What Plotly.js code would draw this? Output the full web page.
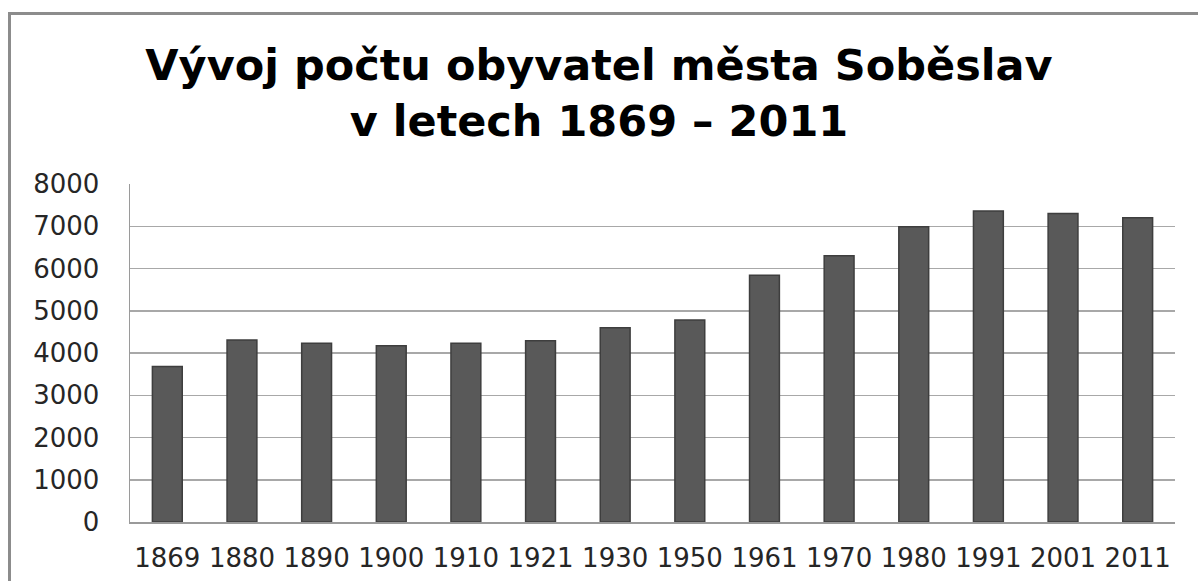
<!DOCTYPE html>
<html>
<head>
<meta charset="utf-8">
<script src="https://cdn.plot.ly/plotly-3.0.1.min.js"></script>
<style>
  html, body { margin: 0; padding: 0; background: #ffffff; }
  #chart { width: 1198px; height: 581px; }
  #frame { position: absolute; left: 8px; top: 12px; width: 2000px; height: 2000px;
           border-left: 3px solid #8c8c8c; border-top: 3px solid #8c8c8c; pointer-events: none; }
</style>
</head>
<body>
<div id="chart"></div>
<div id="frame"></div>
<script>
const years = ["1869","1880","1890","1900","1910","1921","1930","1950","1961","1970","1980","1991","2001","2011"];
const population = [3680, 4310, 4230, 4170, 4230, 4290, 4600, 4780, 5840, 6300, 6990, 7360, 7300, 7200];
const yTicks = [0, 1000, 2000, 3000, 4000, 5000, 6000, 7000, 8000];
const titleText = "Vývoj počtu obyvatel města Soběslav<br>v letech 1869 – 2011";

const trace = {
  type: "bar",
  x: years,
  y: population,
  marker: { color: "#595959", line: { color: "#3e3e3e", width: 1.5 } },
  hoverinfo: "x+y"
};

const layout = {
  width: 1198,
  height: 581,
  paper_bgcolor: "rgba(0,0,0,0)",
  plot_bgcolor: "#ffffff",
  margin: { l: 130, r: 23, t: 184, b: 59 },
  bargap: 0.6,
  showlegend: false,
  title: {
    text: titleText,
    font: { family: "DejaVu Sans", size: 43, color: "#000000", weight: "bold" },
    x: 0.5, xref: "container", xanchor: "center",
    y: 1 - 80 / 581, yref: "container", yanchor: "top"
  },
  xaxis: {
    type: "category",
    showgrid: false,
    showline: true, linecolor: "#9a9a9a", linewidth: 1.5,
    ticks: "",
    ticklabelstandoff: 12,
    tickfont: { family: "DejaVu Sans", size: 26, color: "#262626" }
  },
  yaxis: {
    range: [0, 8000],
    tickvals: yTicks,
    ticktext: yTicks.map(String),
    showgrid: true, gridcolor: "#a8a8a8", gridwidth: 1.5,
    zeroline: false,
    showline: true, linecolor: "#9a9a9a", linewidth: 1.5,
    ticks: "",
    ticklabelstandoff: 24,
    tickfont: { family: "DejaVu Sans", size: 26, color: "#262626" }
  }
};

Plotly.newPlot("chart", [trace], layout, { displayModeBar: false, staticPlot: true });
</script>
</body>
</html>
